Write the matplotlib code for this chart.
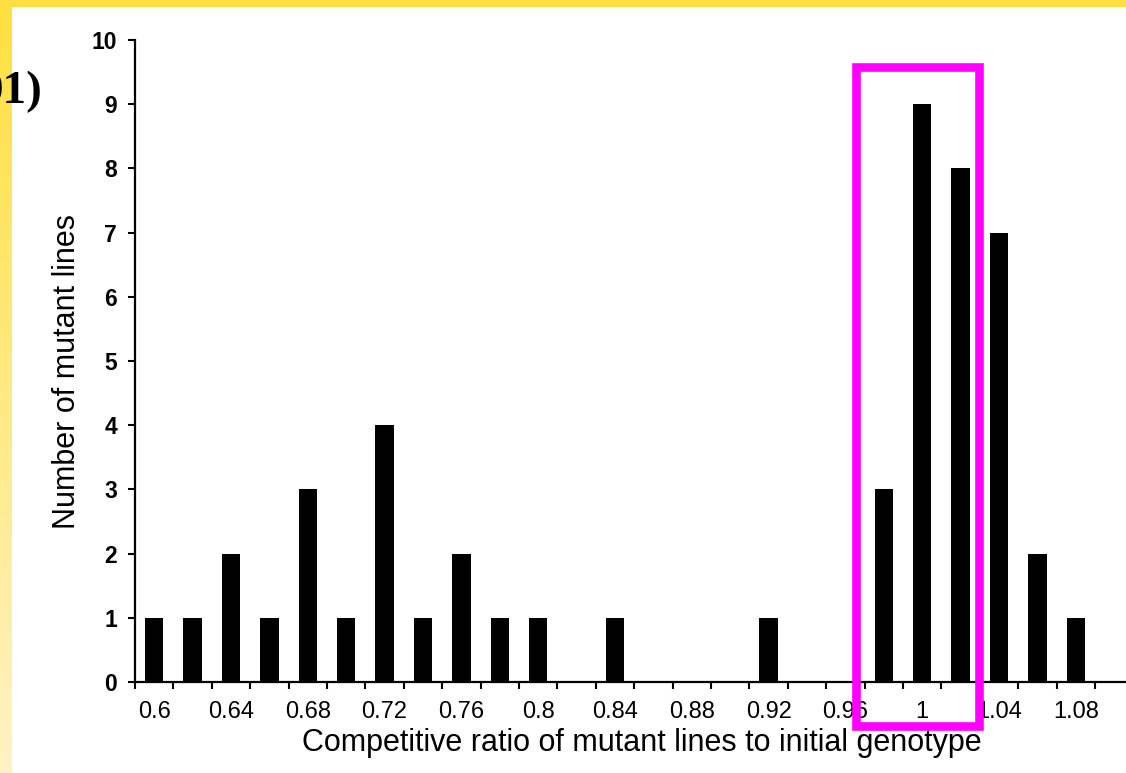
import numpy as np
import matplotlib
matplotlib.use("Agg")
import matplotlib.pyplot as plt
from matplotlib.patches import Rectangle

# competitive ratio classes (0.60 .. 1.08, step 0.02) and counts
ratios = ["0.6", "0.62", "0.64", "0.66", "0.68", "0.7", "0.72", "0.74", "0.76",
          "0.78", "0.8", "0.82", "0.84", "0.86", "0.88", "0.9", "0.92", "0.94",
          "0.96", "0.98", "1", "1.02", "1.04", "1.06", "1.08"]
counts = [1, 1, 2, 1, 3, 1, 4, 1, 2, 1, 1, 0, 1, 0, 0, 0, 1, 0, 0, 3, 9, 8, 7, 2, 1]
y_ticks = list(range(0, 11))
panel_tag = "01)"

W, H = 1126, 773
fig = plt.figure(figsize=(W / 100, H / 100), dpi=100)
plt.rcParams["font.family"] = ["Liberation Sans", "DejaVu Sans"]

# slide background: yellow strip on top and a fading one on the left
fig.patches.append(Rectangle((0, 1 - 6 / H), 1, 6 / H, transform=fig.transFigure,
                             color="#ffe040", zorder=0))
grad = np.linspace(0, 1, 256).reshape(-1, 1)
bg = fig.add_axes([0, 0, 11 / W, 1 - 6 / H], zorder=0)
bg.imshow(grad, aspect="auto", cmap=matplotlib.colors.LinearSegmentedColormap.from_list(
    "strip", ["#ffe040", "#fff2c4"]), extent=(0, 1, 0, 1))
bg.axis("off")

# panel tag, clipped by the left edge as on the slide
fig.text(42 / W, 1 - 103 / H, panel_tag, ha="right", va="baseline",
         fontsize=34, fontweight="bold", family="Liberation Serif", zorder=5)

x = np.arange(len(ratios))
ax = fig.add_axes([135 / W, 91 / H, 26 * 38.4 / W, 642 / H], zorder=2)
ax.patch.set_alpha(0)
ax.bar(x, counts, width=0.48, color="black", zorder=3)
ax.set_xlim(-0.5, 25.5)
ax.set_ylim(0, 10)

for s in ["top", "right"]:
    ax.spines[s].set_visible(False)
for s in ["left", "bottom"]:
    ax.spines[s].set_linewidth(1.6)

ax.set_xticks(x[::2])
ax.set_xticklabels(ratios[::2], fontsize=17)
ax.set_xticks(np.arange(-0.5, 25.5, 1), minor=True)
ax.tick_params(axis="x", which="major", length=0, pad=14)
ax.tick_params(axis="x", which="minor", length=5, width=1.5, direction="out")
ax.set_yticks(y_ticks)
ax.set_yticklabels([str(v) for v in y_ticks], fontsize=16.5, fontweight="bold")
ax.tick_params(axis="y", length=5, width=1.5, pad=8)

ax.set_xlabel("Competitive ratio of mutant lines to initial genotype", fontsize=22)
ax.set_ylabel("Number of mutant lines", fontsize=22)
ax.xaxis.set_label_coords(0.508, -0.071)
ax.yaxis.set_label_coords(-0.053, 0.483)

# magenta highlight box around the peak
fig.patches.append(Rectangle((856 / W, 1 - 726 / H), 123 / W, 659 / H,
                             transform=fig.transFigure, fill=False,
                             edgecolor="#ff00ff", linewidth=6.2, zorder=10))

fig.savefig("out.png", dpi=100)
